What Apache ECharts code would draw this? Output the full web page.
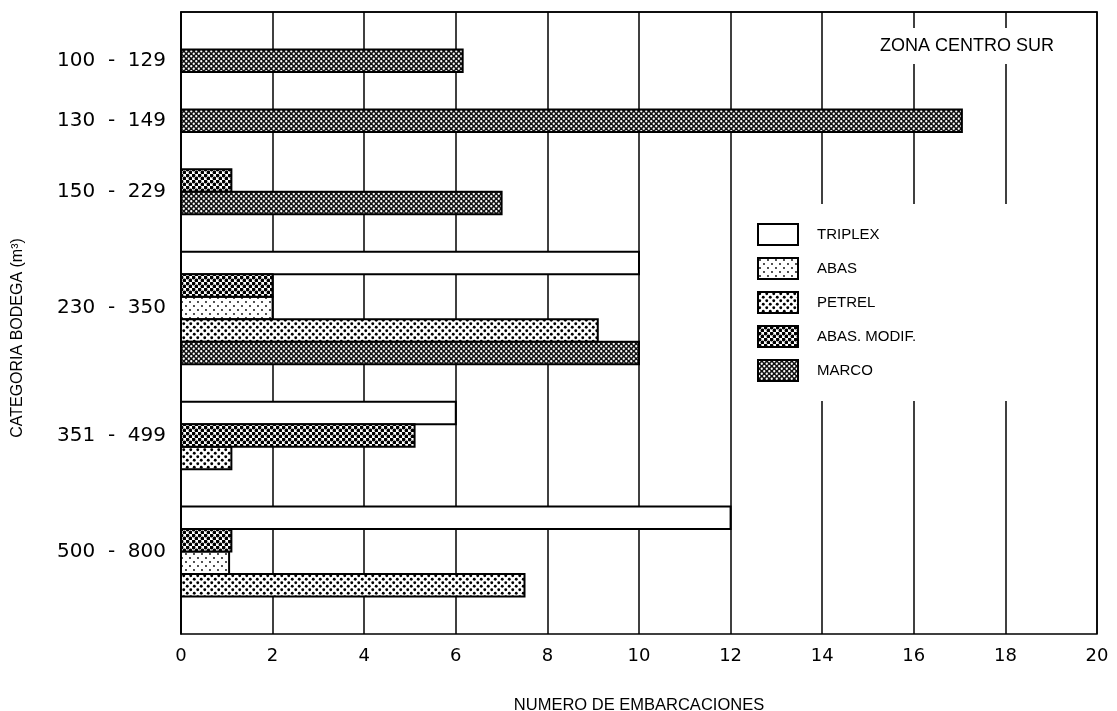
<!DOCTYPE html>
<html>
<head>
<meta charset="utf-8">
<script src="https://cdn.jsdelivr.net/npm/echarts@6/dist/echarts.min.js"></script>
<style>
html,body{margin:0;padding:0;background:#fff;}
#chart{width:1117px;height:711px;}
</style>
</head>
<body>
<div id="chart"></div>
<script>
// ---- data ----
const categories = ['100 - 129', '130 - 149', '150 - 229', '230 - 350', '351 - 499', '500 - 800'];
const triplex   = [null, null, null, 10,  6,   12];
const abasModif = [null, null, 1.1,  2,   5.1, 1.1];
const abas      = [null, null, null, 2,   null, 1.05];
const petrel    = [null, null, null, 9.1, 1.1, 7.5];
const marco     = [6.15, 17.05, 7,   10,  null, null];
const xTicks = [0, 2, 4, 6, 8, 10, 12, 14, 16, 18, 20];
const legendOrder = ['TRIPLEX', 'ABAS', 'PETREL', 'ABAS. MODIF.', 'MARCO'];

// ---- patterns ----
function dotPattern(size, bg, fg, r) {
  const c = document.createElement('canvas');
  c.width = size; c.height = size;
  const g = c.getContext('2d');
  g.fillStyle = bg; g.fillRect(0, 0, size, size);
  g.fillStyle = fg;
  const pts = [[size / 4, size / 4], [3 * size / 4, 3 * size / 4]];
  pts.forEach(p => { g.beginPath(); g.arc(p[0], p[1], r, 0, Math.PI * 2); g.fill(); });
  return { image: c, repeat: 'repeat' };
}
const fills = {
  'TRIPLEX': '#ffffff',
  'ABAS': dotPattern(8, '#ffffff', '#000000', 0.9),
  'PETREL': dotPattern(7, '#ffffff', '#000000', 1.45),
  'ABAS. MODIF.': dotPattern(6, '#ffffff', '#000000', 1.9),
  'MARCO': dotPattern(5, '#111111', '#ffffff', 1.15)
};

// ---- layout of bar slots (bars stacked within each category) ----
const drawOrder = [
  ['TRIPLEX', triplex], ['ABAS. MODIF.', abasModif], ['ABAS', abas], ['PETREL', petrel], ['MARCO', marco]
];
const BAR = 3, GAP = 5;
const seriesData = {};
drawOrder.forEach(d => seriesData[d[0]] = []);
const centers = [];
let pos = GAP;
categories.forEach((cat, i) => {
  const start = pos;
  drawOrder.forEach(([name, arr]) => {
    if (arr[i] != null) { seriesData[name].push([arr[i], pos]); pos += BAR; }
  });
  centers.push((start + pos) / 2);
  pos += GAP;
});
const total = pos;

function renderBar(params, api) {
  const v = api.value(0), y0 = api.value(1);
  const p0 = api.coord([0, y0]);
  const p1 = api.coord([v, y0 + BAR]);
  const st = api.style();
  st.stroke = '#000'; st.lineWidth = 2;
  return {
    type: 'rect',
    shape: { x: p0[0], y: Math.min(p0[1], p1[1]), width: p1[0] - p0[0], height: Math.abs(p1[1] - p0[1]) },
    style: st
  };
}

const series = legendOrder.map(name => ({
  name: name,
  type: 'custom',
  renderItem: renderBar,
  encode: { x: 0, y: 1 },
  itemStyle: { color: fills[name], borderColor: '#000', borderWidth: 2 },
  data: seriesData[name],
  z: 3
}));

const chart = echarts.init(document.getElementById('chart'));
chart.setOption({
  animation: false,
  backgroundColor: '#fff',
  title: {
    text: 'ZONA CENTRO SUR', left: 874, top: 28, padding: [9, 6],
    backgroundColor: '#fff',
    textStyle: { fontFamily: 'Liberation Sans', fontSize: 18, fontWeight: 'normal', color: '#000' }
  },
  legend: {
    orient: 'vertical', left: 745, top: 204, padding: [19, 92, 19, 12],
    itemWidth: 40, itemHeight: 21, itemGap: 11, icon: 'rect',
    backgroundColor: '#fff',
    itemStyle: { borderColor: '#000', borderWidth: 2 },
    textStyle: { fontFamily: 'Liberation Sans', fontSize: 15, color: '#000', padding: [0, 0, 0, 14] },
    data: legendOrder
  },
  grid: {
    left: 181, right: 20, top: 12, bottom: 77, outerBoundsMode: 'none', containLabel: false,
    show: true, borderColor: '#000', borderWidth: 1.5
  },
  xAxis: {
    type: 'value', min: 0, max: 20, interval: 2,
    axisLine: { show: true, lineStyle: { color: '#000', width: 1.5 } },
    axisTick: { show: false },
    splitLine: { show: true, lineStyle: { color: '#000', width: 1.5 } },
    axisLabel: {
      margin: 13, color: '#000', fontFamily: 'DejaVu Sans', fontSize: 18,
      customValues: xTicks, formatter: v => String(v)
    },
    name: 'NUMERO DE EMBARCACIONES', nameLocation: 'middle', nameGap: 63,
    nameTextStyle: { fontFamily: 'Liberation Sans', fontSize: 16.5, color: '#000' }
  },
  yAxis: {
    type: 'value', min: 0, max: total, inverse: true,
    axisLine: { show: true, lineStyle: { color: '#000', width: 1.5 } },
    axisTick: { show: false },
    splitLine: { show: false },
    axisLabel: {
      margin: 15, color: '#000', fontFamily: 'DejaVu Sans', fontSize: 20,
      customValues: centers,
      formatter: v => {
        let best = 0;
        centers.forEach((c, i) => { if (Math.abs(c - v) < Math.abs(centers[best] - v)) best = i; });
        return categories[best].replace(' - ', '  -  ');
      }
    },
    name: 'CATEGORIA BODEGA (m³)', nameLocation: 'middle', nameGap: 155, nameRotate: 90,
    nameTextStyle: { fontFamily: 'Liberation Sans', fontSize: 16, color: '#000', padding: [0, 30, 0, 0] }
  },
  series: series
});
</script>
</body>
</html>
